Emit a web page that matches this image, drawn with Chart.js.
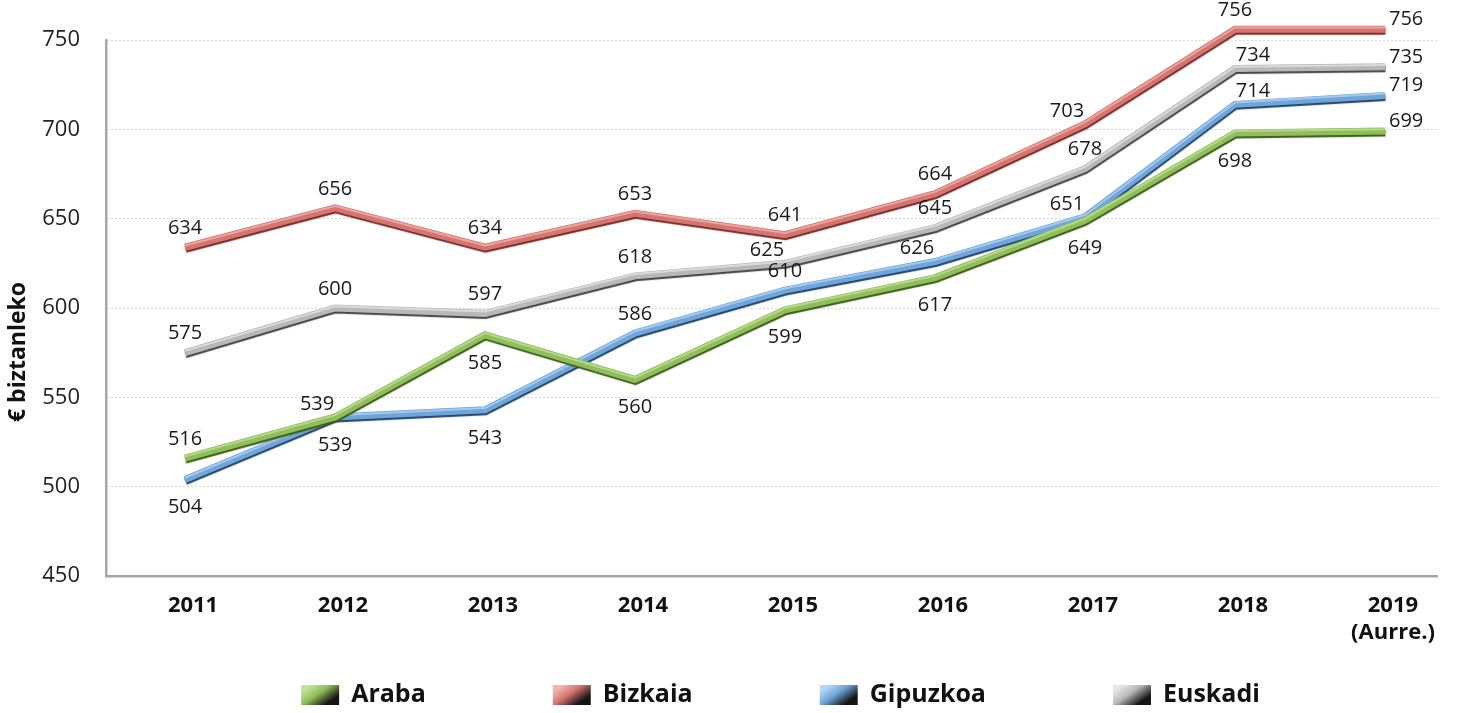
<!DOCTYPE html>
<html>
<head>
<meta charset="utf-8">
<script src="https://cdn.jsdelivr.net/npm/chart.js@4/dist/chart.umd.min.js"></script>
<style>
html,body{margin:0;padding:0;background:#ffffff;}
#wrap{width:1461px;height:713px;position:relative;}
</style>
</head>
<body>
<div id="wrap"><canvas id="c" width="1461" height="713"></canvas></div>
<script>
// ---- data ----
const categories = ['2011', '2012', '2013', '2014', '2015', '2016', '2017', '2018', '2019\n(Aurre.)'];
const araba    = [516, 539, 585, 560, 599, 617, 649, 698, 699];
const bizkaia  = [634, 656, 634, 653, 641, 664, 703, 756, 756];
const gipuzkoa = [504, 539, 543, 586, 610, 626, 651, 714, 719];
const euskadi  = [575, 600, 597, 618, 625, 645, 678, 734, 735];
const yTicks   = [450, 500, 550, 600, 650, 700, 750];
const seriesNames = ['Araba', 'Bizkaia', 'Gipuzkoa', 'Euskadi'];
const yTitle = '€ biztanleko';

// ---- styles ----
const FONT = "'Open Sans', 'Noto Sans', sans-serif";
const styles = [
  { line: '#8fbf58', dark: '#3d5c1e', light: '#c4df9f', place: ['a','al','b','b','b','b','b','b','r'] },
  { line: '#d4756f', dark: '#7a2c29', light: '#f0b5b1', place: ['a','a','a','a','a','a','al','a','r'] },
  { line: '#6ea5da', dark: '#244567', light: '#b8d6f1', place: ['b','b','b','a','a','al','al','ar','r'] },
  { line: '#b8b8b8', dark: '#464646', light: '#e6e6e6', place: ['a','a','a','a','al','a','a','ar','r'] }
];
const placeOffsets = {
  a:  { dx: 0,   dy: -19, align: 'center' },
  b:  { dx: 0,   dy: 28,  align: 'center' },
  al: { dx: -18, dy: -13, align: 'center' },
  ar: { dx: 18,  dy: -13, align: 'center' },
  r:  { dx: 4,   dy: -10, align: 'left' }
};

const seriesValues = [araba, bizkaia, gipuzkoa, euskadi];

const datasets = seriesValues.map((vals, k) => ({
  label: seriesNames[k],
  data: vals.map((v, i) => ({ x: i, y: v })),
  borderColor: styles[k].line,
  backgroundColor: styles[k].line,
  borderWidth: 7,
  pointRadius: 0,
  pointHoverRadius: 0,
  tension: 0,
  fill: false,
  clip: false,
  borderJoinStyle: 'miter',
  borderCapStyle: 'butt'
}));

// 3D-ish ribbon shading
const ribbonPlugin = {
  id: 'ribbon',
  beforeDatasetDraw(chart, args) {
    const ctx = chart.ctx;
    ctx.save();
    ctx.shadowColor = styles[args.index].dark;
    ctx.shadowOffsetX = 0.5;
    ctx.shadowOffsetY = 2;
    ctx.shadowBlur = 1;
  },
  afterDatasetDraw(chart, args) {
    const ctx = chart.ctx;
    ctx.restore();
    const pts = args.meta.data;
    ctx.save();
    ctx.strokeStyle = styles[args.index].light;
    ctx.globalAlpha = 0.75;
    ctx.lineWidth = 2;
    ctx.lineJoin = 'miter';
    ctx.beginPath();
    pts.forEach((p, i) => {
      if (i === 0) ctx.moveTo(p.x, p.y - 1.8); else ctx.lineTo(p.x, p.y - 1.8);
    });
    ctx.stroke();
    ctx.restore();
  }
};

// value labels
const labelPlugin = {
  id: 'valueLabels',
  afterDatasetsDraw(chart) {
    const ctx = chart.ctx;
    ctx.save();
    ctx.font = '20px ' + FONT;
    ctx.fillStyle = '#1a1a1a';
    ctx.textBaseline = 'middle';
    chart.data.datasets.forEach((ds, k) => {
      const meta = chart.getDatasetMeta(k);
      meta.data.forEach((p, i) => {
        const o = placeOffsets[styles[k].place[i]];
        ctx.textAlign = o.align;
        ctx.fillText(String(seriesValues[k][i]), p.x + o.dx, p.y + o.dy);
      });
    });
    ctx.restore();
  }
};

// legend + axis title
const extrasPlugin = {
  id: 'extras',
  afterDraw(chart) {
    const ctx = chart.ctx;
    const area = chart.chartArea;
    // y-axis title
    ctx.save();
    ctx.font = 'bold 23px ' + FONT;
    ctx.fillStyle = '#111';
    ctx.textAlign = 'center';
    ctx.textBaseline = 'middle';
    ctx.translate(18, (area.top + area.bottom) / 2 + 44);
    ctx.rotate(-Math.PI / 2);
    ctx.fillText(yTitle, 0, 0);
    ctx.restore();

    // legend
    ctx.save();
    ctx.font = 'bold 25px ' + FONT;
    ctx.textBaseline = 'middle';
    ctx.textAlign = 'left';
    const boxW = 38, boxH = 20, gapText = 12, gapItem = 127;
    const widths = seriesNames.map(n => boxW + gapText + ctx.measureText(n).width);
    const total = widths.reduce((a, b) => a + b, 0) + gapItem * (seriesNames.length - 1);
    let x = (area.left + area.right) / 2 + 9 - total / 2;
    const yMid = 695;
    seriesNames.forEach((n, k) => {
      const g = ctx.createLinearGradient(x + 10, yMid - boxH / 2, x + 24, yMid + boxH / 2);
      g.addColorStop(0, styles[k].light);
      g.addColorStop(0.45, styles[k].line);
      g.addColorStop(1, '#151515');
      ctx.fillStyle = g;
      ctx.fillRect(x, yMid - boxH / 2, boxW, boxH);
      ctx.fillStyle = '#111';
      ctx.fillText(n, x + boxW + gapText, yMid);
      x += widths[k] + gapItem;
    });
    ctx.restore();
  }
};

new Chart(document.getElementById('c'), {
  type: 'line',
  data: { datasets },
  options: {
    responsive: false,
    animation: false,
    events: [],
    layout: { padding: { top: 40, right: 24, bottom: 60, left: 0 } },
    plugins: {
      legend: { display: false },
      tooltip: { enabled: false }
    },
    scales: {
      x: {
        type: 'linear',
        min: -0.527,
        max: 8.347,
        afterBuildTicks: s => { s.ticks = categories.map((c, i) => ({ value: i })); },
        afterFit: s => { s.height = 77; },
        ticks: {
          autoSkip: false,
          maxRotation: 0,
          minRotation: 0,
          padding: 17,
          labelOffset: 8,
          color: '#111',
          font: { family: FONT, size: 22, weight: 'bold' },
          callback: v => categories[Math.round(v)].split('\n')
        },
        grid: { display: false, drawTicks: false },
        border: { display: true, color: '#a6a6a6', width: 2.5 }
      },
      y: {
        type: 'linear',
        min: 450,
        max: 750,
        afterBuildTicks: s => { s.ticks = yTicks.map(v => ({ value: v })); },
        afterFit: s => { s.width = 106; },
        ticks: {
          padding: 26,
          color: '#222',
          font: { family: FONT, size: 22 }
        },
        grid: { color: '#b0b0b0', lineWidth: 1, drawTicks: false },
        border: { display: true, color: '#a6a6a6', width: 2.5, dash: [1, 3] }
      }
    }
  },
  plugins: [ribbonPlugin, labelPlugin, extrasPlugin]
});
</script>
</body>
</html>
